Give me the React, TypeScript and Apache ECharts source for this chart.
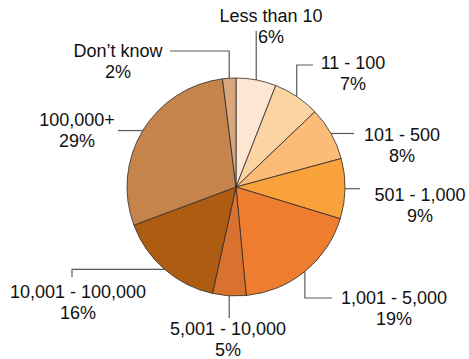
import React, { useEffect, useRef } from 'react';
import * as echarts from 'echarts';

// Size bands (slices run clockwise from 12 o'clock)
const categories = [
  'Less than 10',
  '11 - 100',
  '101 - 500',
  '501 - 1,000',
  '1,001 - 5,000',
  '5,001 - 10,000',
  '10,001 - 100,000',
  '100,000+',
  'Don\u2019t know',
];
// Share of respondents, percent
const shares = [6, 7, 8, 9, 19, 5, 16, 29, 2];
const sliceColors = [
  '#fde6d2',
  '#fcd4a4',
  '#fcbb76',
  '#f9a23b',
  '#ee7d30',
  '#d9722f',
  '#ad5c11',
  '#c5844b',
  '#d9a77b',
];

type Pt = number[];
// Where each label sits (centre x, top y) and how its leader line is routed
// from the slice's edge point p.
const labelPlacement: { x: number; y: number; route: (p: Pt) => Pt[] }[] = [
  { x: 271, y: 5.5, route: (p) => [p, [p[0], 31], [p[0], 31]] },
  { x: 353, y: 52.5, route: (p) => [p, [p[0], 65], [313, 65]] },
  { x: 402, y: 124.5, route: (p) => [p, [354, p[1]], [354, p[1]]] },
  { x: 420, y: 184.5, route: (p) => [p, [360, p[1]], [360, p[1]]] },
  { x: 394, y: 287.5, route: (p) => [p, [p[0], 298], [332, 298]] },
  { x: 228, y: 318.5, route: (p) => [p, [p[0], 318], [p[0], 318]] },
  { x: 78, y: 281, route: (p) => [p, [72, p[1]], [72, 277]] },
  { x: 77, y: 109.5, route: (p) => [p, [118, p[1]], [118, p[1]]] },
  { x: 118, y: 40, route: (p) => [p, [p[0], 51], [170, 51]] },
];

export default function App() {
  const ref = useRef<HTMLDivElement>(null);

  useEffect(() => {
    if (!ref.current) return;
    const chart = echarts.init(ref.current, null, { renderer: 'svg' });
    const data = categories.map((name, i) => ({
      name,
      value: shares[i],
      itemStyle: { color: sliceColors[i] },
    }));
    chart.setOption({
      animation: false,
      backgroundColor: '#ffffff',
      series: [
        {
          type: 'pie',
          center: [236, 187],
          radius: 109,
          startAngle: 90,
          clockwise: true,
          avoidLabelOverlap: false,
          data,
          itemStyle: { borderColor: '#2b2b2b', borderWidth: 0.8 },
          emphasis: { disabled: true },
          label: {
            show: true,
            position: 'outside',
            formatter: '{b}\n{c}%',
            fontFamily: '"Liberation Sans", Arial, Helvetica, sans-serif',
            fontSize: 18,
            lineHeight: 21,
            color: '#111111',
            align: 'center',
          },
          labelLine: {
            show: true,
            length: 10,
            length2: 10,
            lineStyle: { color: '#5a5a5a', width: 1.2 },
          },
          labelLayout: (params: any) => {
            const cfg = labelPlacement[params.dataIndex];
            const p0 = params.labelLinePoints ? params.labelLinePoints[0] : [0, 0];
            return {
              x: cfg.x,
              y: cfg.y,
              align: 'center',
              verticalAlign: 'top',
              labelLinePoints: cfg.route([p0[0], p0[1]]),
            };
          },
        },
      ],
    });
    return () => chart.dispose();
  }, []);

  return (
    <div
      ref={ref}
      style={{ position: 'fixed', left: 0, top: 0, width: 469, height: 359 }}
    />
  );
}
